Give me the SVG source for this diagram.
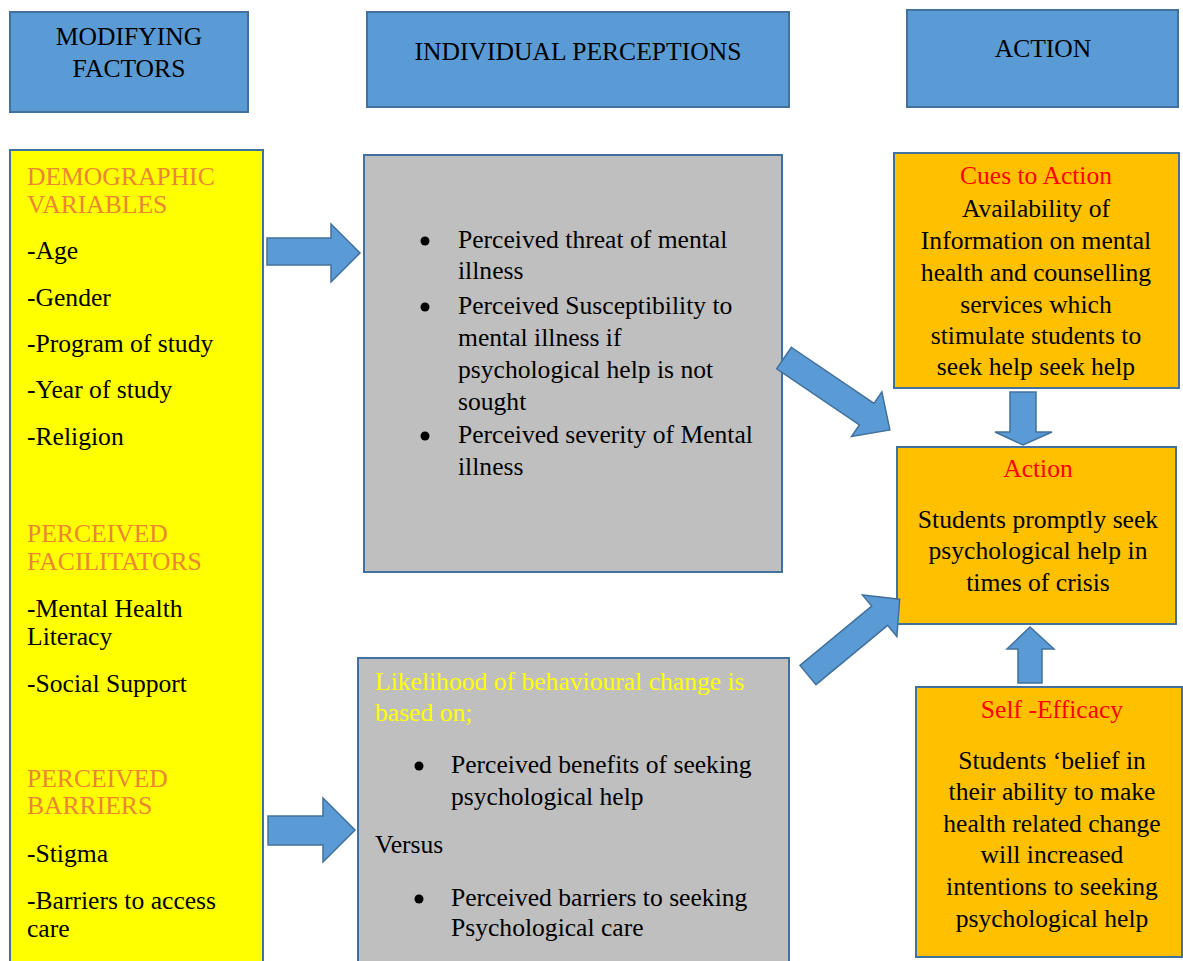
<svg xmlns="http://www.w3.org/2000/svg" width="1183" height="961" viewBox="0 0 1183 961">
<style>
  text { font-family: "Liberation Serif", "Times New Roman", serif; font-size: 25.6px; fill: #000; }
  .hdr { fill: #5B9BD5; stroke: #41719C; stroke-width: 2; }
  .yel { fill: #FFFF00; stroke: #41719C; stroke-width: 2; }
  .gry { fill: #BFBFBF; stroke: #41719C; stroke-width: 2; }
  .org { fill: #FFC000; stroke: #41719C; stroke-width: 2; }
  .arr { fill: #5B9BD5; stroke: #41719C; stroke-width: 1.5; }
  .c { text-anchor: middle; }
  .or { fill: #EB8634; }
  .rd { fill: #FF0000; }
  .yt { fill: #FFFF00; }
</style>
<rect width="1183" height="961" fill="#FFFFFF"/>

<g id="hdr-modifying">
  <rect class="hdr" x="10" y="12" width="238" height="100"/>
  <text class="c" x="129" y="45">MODIFYING</text>
  <text class="c" x="129" y="77">FACTORS</text>
</g>
<g id="hdr-perceptions">
  <rect class="hdr" x="367" y="12" width="422" height="95"/>
  <text class="c" x="578" y="60">INDIVIDUAL PERCEPTIONS</text>
</g>
<g id="hdr-action">
  <rect class="hdr" x="907" y="10" width="271" height="97"/>
  <text class="c" x="1043" y="57">ACTION</text>
</g>

<g id="modifying-factors">
  <rect class="yel" x="10" y="150" width="253" height="830"/>
  <text class="or" x="27" y="185">DEMOGRAPHIC</text>
  <text class="or" x="27" y="213">VARIABLES</text>
  <text x="27" y="259">-Age</text>
  <text x="27" y="306">-Gender</text>
  <text x="27" y="352">-Program of study</text>
  <text x="27" y="398">-Year of study</text>
  <text x="27" y="445">-Religion</text>
  <text class="or" x="27" y="542">PERCEIVED</text>
  <text class="or" x="27" y="570">FACILITATORS</text>
  <text x="27" y="617">-Mental Health</text>
  <text x="27" y="645">Literacy</text>
  <text x="27" y="692">-Social Support</text>
  <text class="or" x="27" y="787">PERCEIVED</text>
  <text class="or" x="27" y="814">BARRIERS</text>
  <text x="27" y="862">-Stigma</text>
  <text x="27" y="909">-Barriers to access</text>
  <text x="27" y="937">care</text>
</g>

<g id="perceived-threat">
  <rect class="gry" x="364" y="155" width="418" height="417"/>
  <circle cx="425" cy="241" r="4.5"/>
  <text x="458" y="248">Perceived threat of mental</text>
  <text x="458" y="279">illness</text>
  <circle cx="425" cy="307" r="4.5"/>
  <text x="458" y="314">Perceived Susceptibility to</text>
  <text x="458" y="346">mental illness if</text>
  <text x="458" y="378">psychological help is not</text>
  <text x="458" y="410">sought</text>
  <circle cx="425" cy="436" r="4.5"/>
  <text x="458" y="443">Perceived severity of Mental</text>
  <text x="458" y="475">illness</text>
</g>

<g id="likelihood">
  <rect class="gry" x="358" y="658" width="431" height="330"/>
  <text class="yt" x="375" y="690">Likelihood of behavioural change is</text>
  <text class="yt" x="375" y="721">based on;</text>
  <circle cx="419" cy="766" r="4.5"/>
  <text x="451" y="773">Perceived benefits of seeking</text>
  <text x="451" y="805">psychological help</text>
  <text x="375" y="853">Versus</text>
  <circle cx="419" cy="899" r="4.5"/>
  <text x="451" y="906">Perceived barriers to seeking</text>
  <text x="451" y="936">Psychological care</text>
</g>

<g id="cues-to-action">
  <rect class="org" x="894" y="153" width="285" height="235"/>
  <text class="c rd" x="1036" y="184">Cues to Action</text>
  <text class="c" x="1036" y="217">Availability of</text>
  <text class="c" x="1036" y="249">Information on mental</text>
  <text class="c" x="1036" y="281">health and counselling</text>
  <text class="c" x="1036" y="313">services which</text>
  <text class="c" x="1036" y="344">stimulate students to</text>
  <text class="c" x="1036" y="375">seek help seek help</text>
</g>

<g id="action">
  <rect class="org" x="897" y="447" width="279" height="177"/>
  <text class="c rd" x="1038" y="477">Action</text>
  <text class="c" x="1038" y="528">Students promptly seek</text>
  <text class="c" x="1038" y="559">psychological help in</text>
  <text class="c" x="1038" y="591">times of crisis</text>
</g>

<g id="self-efficacy">
  <rect class="org" x="916" y="687" width="266" height="270"/>
  <text class="c rd" x="1052" y="718">Self -Efficacy</text>
  <text class="c" x="1052" y="769">Students ‘belief in</text>
  <text class="c" x="1052" y="800">their ability to make</text>
  <text class="c" x="1052" y="832">health related change</text>
  <text class="c" x="1052" y="863">will increased</text>
  <text class="c" x="1052" y="895">intentions to seeking</text>
  <text class="c" x="1052" y="927">psychological help</text>
</g>

<g id="connectors">
  <polygon class="arr" points="267,238 331,238 331,224 360,253 331,282 331,265 267,265"/>
  <polygon class="arr" points="268,816 323,816 323,798 355,830 323,862 323,845 268,845"/>
  <polygon class="arr" transform="translate(784,358) rotate(34.2)" points="0,-13 100,-13 100,-27 128,0 100,27 100,13 0,13"/>
  <polygon class="arr" transform="translate(808,675) rotate(-39.6)" points="0,-12.5 93,-12.5 93,-27 119,0 93,27 93,12.5 0,12.5"/>
  <polygon class="arr" points="1010,392 1036,392 1036,432 1052,432 1023,445 995,432 1010,432"/>
  <polygon class="arr" points="1018,683 1042,683 1042,649 1054,649 1030,627 1007,649 1018,649"/>
</g>
</svg>
